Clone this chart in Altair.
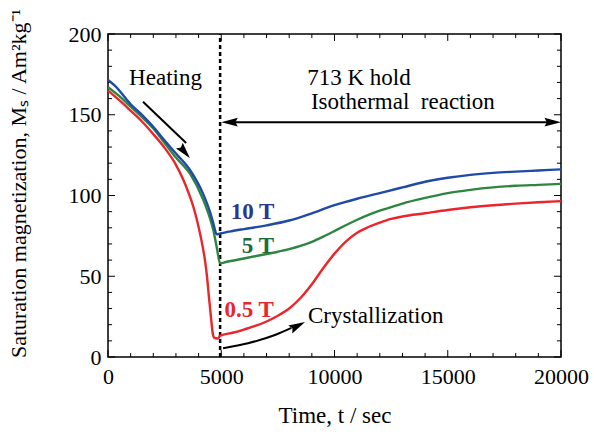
import altair as alt
import pandas as pd

# ---- data ----
t_red = [0, 500, 1000, 1500, 2000, 2500, 3000, 3330, 3600, 3800, 4000, 4150, 4280, 4370, 4450, 4550, 4620,
         4680, 4850, 4950, 5500, 6000, 6500, 7000, 7500, 8000, 8500, 9000, 9500, 10000, 10500, 11000,
         11500, 12000, 12500, 13000, 14000, 15000, 16000, 17000, 18000, 19000, 20000]
m_red = [165, 159, 152.5, 145.8, 138, 129.5, 119, 109.6, 100, 91.5, 80.5, 70.5, 60, 50, 38, 24, 15,
         12, 11.5, 13.2, 15, 17, 19.2, 22, 25.5, 30, 36.5, 45, 55, 64, 71.5, 77,
         80.5, 83.2, 85.5, 87, 89, 91, 92.7, 94, 95, 95.8, 96.5]

t_green = [0, 500, 1000, 1500, 2000, 2500, 3000, 3620, 4200, 4500, 4650, 4800, 4950, 5200, 6000, 7000,
           7500, 8000, 8500, 9000, 9500, 10000, 10500, 11000, 11500, 12000, 12500, 13000, 14000, 15000,
           16000, 17000, 18000, 19000, 20000]
m_green = [167, 161.5, 155, 148.5, 141.5, 132.5, 123.5, 113.5, 97.5, 86, 78.6, 68, 58, 58.8, 61, 63.8,
           65.2, 66.8, 68.8, 71.3, 74.5, 78, 81.6, 85, 88, 90.6, 92.8, 95, 98.5, 101.5,
           103.5, 105, 106, 106.6, 107.2]

t_blue = [0, 300, 1000, 1500, 2000, 2500, 3000, 3620, 4200, 4500, 4650, 4800, 4950, 5500, 6000, 7000,
          8000, 9000, 10000, 11000, 12000, 13000, 14000, 15000, 16000, 17000, 18000, 19000, 20000]
m_blue = [171.5, 168, 156.5, 150, 142.5, 134, 126, 115.8, 101, 90, 82.8, 76, 76.5, 78, 79.2, 81.5,
          84.5, 89, 94, 98, 101.5, 105, 108.5, 111, 112.8, 114, 114.8, 115.5, 116.2]

series_names = ["0.5 T", "5 T", "10 T"]
series_colors = ["#e8262b", "#2e8540", "#1f4aa5"]
label_colors = ["#e8262b", "#1d6b38", "#2b3590"]

# label positions (t, M)
label_t = [6230, 6620, 6380]
label_m = [29.4, 69, 89.5]

x_major = [0, 5000, 10000, 15000, 20000]
y_major = [0, 50, 100, 150, 200]
x_minor = list(range(0, 20001, 1000))
y_minor = list(range(0, 201, 10))

hold_t = 4950
arrow_m = 145.4

rows = []
for name, ts, ms in [("0.5 T", t_red, m_red), ("5 T", t_green, m_green), ("10 T", t_blue, m_blue)]:
    for t, m in zip(ts, ms):
        rows.append({"t": t, "M": m, "field": name})
curves = pd.DataFrame(rows)

FONT = "Liberation Serif"
xs = alt.Scale(domain=[0, 20000], nice=False, zero=False)
ys = alt.Scale(domain=[0, 200], nice=False, zero=False)

base_x = alt.X("t:Q", scale=xs, axis=alt.Axis(values=x_major, format="d", title="Time, t / sec",
                                                  ticks=False, domain=False, grid=False, labelPadding=9,
                                                  labelFlush=False, titlePadding=17))
base_y = alt.Y("M:Q", scale=ys, axis=alt.Axis(values=y_major, format="d",
                                                  title="Saturation magnetization, Mₛ / Am²kg⁻¹",
                                                  ticks=False, domain=False, grid=False, labelPadding=7,
                                                  labelFlush=False, titlePadding=38, titleY=149,
                                                  titleFontSize=22))

lines = alt.Chart(curves).mark_line(interpolate="monotone", strokeWidth=2.4).encode(
    x=base_x, y=base_y,
    color=alt.Color("field:N", scale=alt.Scale(domain=series_names, range=series_colors), legend=None),
    order=alt.Order("t:Q"),
)

# inward ticks drawn as rules
xt = pd.DataFrame({"t": x_minor})
xt["len_y"] = [4.3 if t in x_major else 2.5 for t in x_minor]
xt["y0"] = 0
xt["y1"] = xt["len_y"]
xt["y2t"] = 200
xt["y3t"] = 200 - xt["len_y"]

yt = pd.DataFrame({"M": y_minor})
yt["len_x"] = [310 if m in y_major else 180 for m in y_minor]
yt["x0"] = 0
yt["x1"] = yt["len_x"]
yt["x2r"] = 20000
yt["x3r"] = 20000 - yt["len_x"]

tick_style = dict(color="black", strokeWidth=1)
xb = alt.Chart(xt).mark_rule(**tick_style).encode(x=alt.X("t:Q", scale=xs), y=alt.Y("y0:Q", scale=ys), y2="y1:Q")
xtop = alt.Chart(xt).mark_rule(**tick_style).encode(x=alt.X("t:Q", scale=xs), y=alt.Y("y2t:Q", scale=ys), y2="y3t:Q")
yl = alt.Chart(yt).mark_rule(**tick_style).encode(y=alt.Y("M:Q", scale=ys), x=alt.X("x0:Q", scale=xs), x2="x1:Q")
yr = alt.Chart(yt).mark_rule(**tick_style).encode(y=alt.Y("M:Q", scale=ys), x=alt.X("x2r:Q", scale=xs), x2="x3r:Q")

# dashed vertical line
vline = alt.Chart(pd.DataFrame({"t": [hold_t], "a": [0], "b": [200]})).mark_rule(
    color="black", strokeWidth=2.5, strokeDash=[4, 3]).encode(
    x=alt.X("t:Q", scale=xs), y=alt.Y("a:Q", scale=ys), y2="b:Q")

# double arrow
harrow = alt.Chart(pd.DataFrame({"a": [5000 + 300], "b": [20000 - 300], "M": [arrow_m]})).mark_rule(
    color="black", strokeWidth=2).encode(x=alt.X("a:Q", scale=xs), x2="b:Q", y=alt.Y("M:Q", scale=ys))

HEAD = "M0,0 L-1.7,-0.45 L-1.45,0 L-1.7,0.45 Z"
heads = pd.DataFrame({
    "t": [5000, 20000, 3620, 8700],
    "M": [arrow_m, arrow_m, 123, 21.7],
    "ang": [180, 0, 50, 333],
})
head_marks = alt.Chart(heads).mark_point(shape=HEAD, filled=True, color="black", opacity=1, size=380,
                                          strokeWidth=0).encode(
    x=alt.X("t:Q", scale=xs), y=alt.Y("M:Q", scale=ys), angle=alt.Angle("ang:Q", scale=None))

# heating arrow shaft
heat = pd.DataFrame({"t": [1545, 3450], "M": [158, 132.5]})
heat_line = alt.Chart(heat).mark_line(color="black", strokeWidth=2).encode(
    x=alt.X("t:Q", scale=xs), y=alt.Y("M:Q", scale=ys))

# crystallization arrow shaft
cry = pd.DataFrame({"t": [5080, 6180, 7370, 8100], "M": [5.4, 8.5, 13.6, 18.0]})
cry_line = alt.Chart(cry).mark_line(color="black", strokeWidth=2, interpolate="monotone").encode(
    x=alt.X("t:Q", scale=xs), y=alt.Y("M:Q", scale=ys))

# annotation texts
ann = pd.DataFrame({
    "t": [2540, 11080, 13020],
    "M": [172.7, 172.7, 157.6],
    "txt": ["Heating", "713 K hold", "Isothermal\u00a0 reaction"],
})
ann_text = alt.Chart(ann).mark_text(font=FONT, fontSize=23, color="black", align="center", baseline="middle").encode(
    x=alt.X("t:Q", scale=xs), y=alt.Y("M:Q", scale=ys), text="txt:N")

cry_text = alt.Chart(pd.DataFrame({"t": [8830], "M": [25.5], "txt": ["Crystallization"]})).mark_text(
    font=FONT, fontSize=23, color="black", align="left", baseline="middle").encode(
    x=alt.X("t:Q", scale=xs), y=alt.Y("M:Q", scale=ys), text="txt:N")

lab = pd.DataFrame({"t": label_t, "M": label_m, "txt": series_names, "c": label_colors})
lab_text = alt.Chart(lab).mark_text(font=FONT, fontSize=23, fontWeight="bold", align="center",
                                     baseline="middle").encode(
    x=alt.X("t:Q", scale=xs), y=alt.Y("M:Q", scale=ys), text="txt:N", color=alt.Color("c:N", scale=None))

chart = alt.layer(
    xb, xtop, yl, yr, vline, lines, harrow, head_marks, heat_line, cry_line, ann_text, cry_text, lab_text
).resolve_scale(color="independent").properties(
    width=453, height=323,
    background="white",
    autosize=alt.AutoSizeParams(type="none"),
    padding={"left": 108, "top": 34, "right": 33, "bottom": 77},
).configure_view(stroke="black", strokeWidth=1.5).configure_axis(
    labelFont=FONT, labelFontSize=22, labelColor="black",
    titleFont=FONT, titleFontSize=23, titleColor="black", titleFontWeight="normal",
)

chart.save("out.html", embed_options={"renderer": "svg", "actions": False})
